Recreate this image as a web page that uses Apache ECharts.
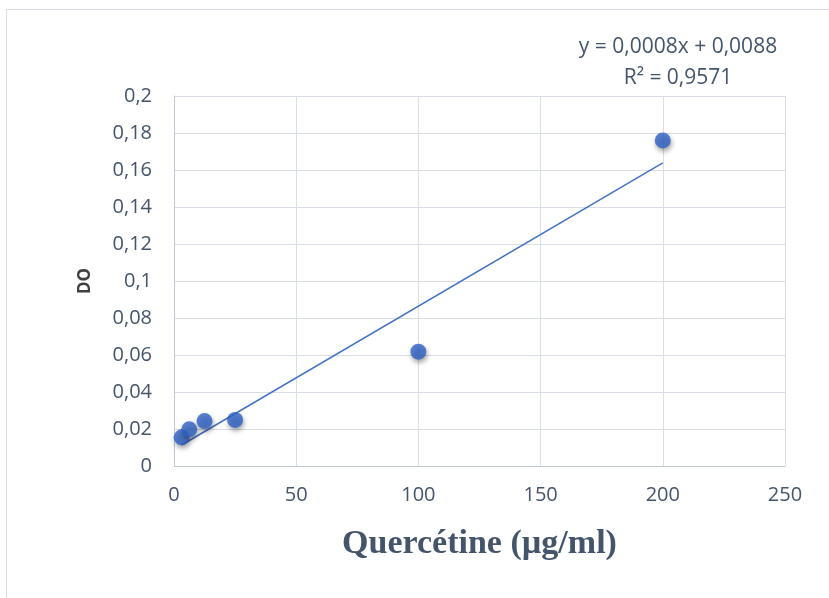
<!DOCTYPE html>
<html>
<head>
<meta charset="utf-8">
<script src="https://cdn.jsdelivr.net/npm/echarts@6/dist/echarts.min.js"></script>
<style>html,body{margin:0;padding:0;background:#fff;}#c{width:829px;height:598px;}</style>
</head>
<body>
<div id="c"></div>
<script>
const concentrations = [3.125, 6.25, 12.5, 25, 100, 200];
const absorbances = [0.0155, 0.0198, 0.0243, 0.0249, 0.0618, 0.176];
const xTicks = [0, 50, 100, 150, 200, 250];
const yTicks = [0, 0.02, 0.04, 0.06, 0.08, 0.1, 0.12, 0.14, 0.16, 0.18, 0.2];
const equationText = 'y = 0,0008x + 0,0088';
const r2Text = 'R² = 0,9571';
const xTitle = 'Quercétine (µg/ml)';
const yTitle = 'DO';

// least-squares trend line from the data
const n = concentrations.length;
const mx = concentrations.reduce((a,b)=>a+b,0)/n;
const my = absorbances.reduce((a,b)=>a+b,0)/n;
let sxy=0, sxx=0;
for (let i=0;i<n;i++){ sxy+=(concentrations[i]-mx)*(absorbances[i]-my); sxx+=(concentrations[i]-mx)**2; }
const slope = sxy/sxx, intercept = my - slope*mx;
const xMin = Math.min(...concentrations), xMax = Math.max(...concentrations);
const trend = [[xMin, intercept+slope*xMin],[xMax, intercept+slope*xMax]];

const chart = echarts.init(document.getElementById('c'), null, {renderer:'canvas'});
const labelColor = '#44546A';
const gridColor = '#D9DEE6';
chart.setOption({
  animation:false,
  backgroundColor:'#fff',
  grid:{left:174, top:96, width:611, height:370, containLabel:false},
  xAxis:{
    type:'value', min:xTicks[0], max:xTicks[xTicks.length-1], interval:50,
    axisLine:{show:true, lineStyle:{color:'#BFC7D3', width:1}},
    axisTick:{show:false},
    splitLine:{show:true, lineStyle:{color:gridColor, width:1}},
    axisLabel:{color:labelColor, fontFamily:'Open Sans', fontSize:20, margin:19},
    name:xTitle, nameLocation:'middle', nameGap:61,
    nameTextStyle:{color:labelColor, fontFamily:'Liberation Serif', fontWeight:'bold', fontSize:34}
  },
  yAxis:{
    type:'value', min:yTicks[0], max:yTicks[yTicks.length-1], interval:0.02,
    axisLine:{show:true, lineStyle:{color:'#BFC7D3', width:1}},
    axisTick:{show:false},
    splitLine:{show:true, lineStyle:{color:gridColor, width:1}},
    axisLabel:{color:labelColor, fontFamily:'Open Sans', fontSize:20, margin:22,
      formatter:v=>String(+(+v).toFixed(2)).replace('.',',')},
    name:yTitle, nameLocation:'middle', nameGap:80, nameRotate:90,
    nameTextStyle:{color:'#404040', fontFamily:'Open Sans', fontWeight:'bold', fontSize:17}
  },
  graphic:[
    {type:'rect', shape:{x:6.5, y:9.5, width:900, height:700}, style:{fill:'none', stroke:'#D9DDE3', lineWidth:1}, silent:true, z:-1},
    {type:'text', x:678, y:47, style:{text:equationText, fill:labelColor, font:'21px "Open Sans"', textAlign:'center', textVerticalAlign:'middle'}},
    {type:'text', x:678, y:78, style:{text:r2Text, fill:labelColor, font:'21px "Open Sans"', textAlign:'center', textVerticalAlign:'middle'}}
  ],
  series:[
    {type:'line', data:trend, symbol:'none', lineStyle:{color:'#4472C4', width:1.5}, z:2},
    {type:'scatter', data:concentrations.map((x,i)=>[x,absorbances[i]]), symbolSize:16,
     itemStyle:{color:'#2F62C6', shadowBlur:5, shadowColor:'rgba(0,0,0,0.45)', shadowOffsetX:1, shadowOffsetY:3}, z:3}
  ]
});
</script>
</body>
</html>
